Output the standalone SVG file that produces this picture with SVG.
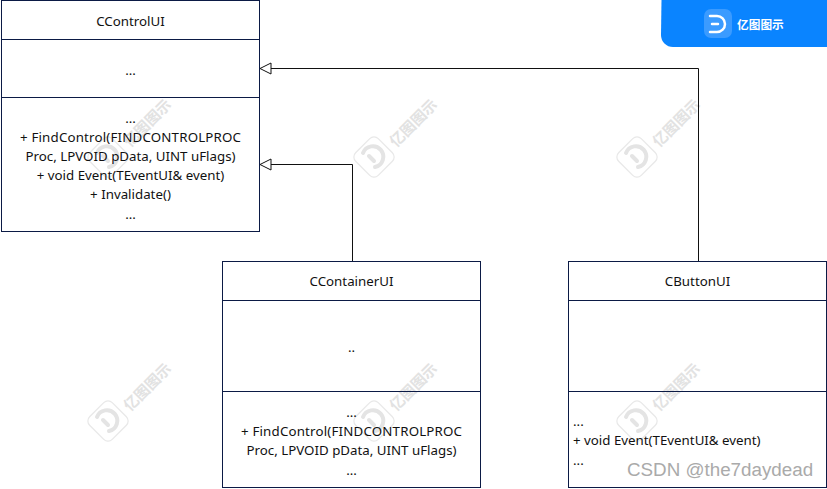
<svg xmlns="http://www.w3.org/2000/svg" width="827" height="489" viewBox="0 0 827 489">
<style>
.box{fill:none;stroke:#0b1a45;stroke-width:1}
.t{font-family:"Noto Sans","Noto Sans CJK SC",sans-serif;font-size:13.3px;fill:#111;text-anchor:middle}
.l{text-anchor:start}
.c{fill:none;stroke:#111;stroke-width:1}
.h{fill:#fff;stroke:#111;stroke-width:1}
.wm{fill:#fff;stroke:#e8e8e8;stroke-width:1.2}
.wi{fill:none;stroke:#e4e4e4;stroke-width:4;stroke-linecap:round}
.wt{font-family:"Noto Sans CJK SC",sans-serif;font-size:15px;font-weight:700;fill:#e2e2e2}
</style>
<defs>
<g id="wmark">
<rect class="wm" x="-16" y="-16" width="32" height="32" rx="6" transform="rotate(-45)"/>
<path class="wi" d="M-11 -4 A 10.500 10.500 0 1 1 1 10 M-5 -1 L0 4"/>
<text class="wt" x="22" y="-9" transform="rotate(-45 22 -9)">亿图图示</text>
</g>
</defs>
<rect width="827" height="489" fill="#fff"/>
<g id="watermarks">
<use href="#wmark" x="108" y="157"/>
<use href="#wmark" x="374" y="157"/>
<use href="#wmark" x="637" y="157"/>
<use href="#wmark" x="108" y="421"/>
<use href="#wmark" x="374" y="421"/>
<use href="#wmark" x="637" y="421"/>
</g>
<g id="banner">
<path d="M661.500 0H827V47H673a12 12 0 0 1-12-12Z" fill="#0a84ff"/>
<rect x="704" y="9" width="28" height="29" rx="7" fill="#3b9bff"/>
<path d="M710 16h7a8 8 0 0 1 0 16h-7M712 24h6" fill="none" stroke="#fff" stroke-width="2.500" stroke-linecap="round"/>
<text x="737" y="29" font-family="Noto Sans CJK SC,sans-serif" font-size="11.700" font-weight="700" fill="#fff">亿图图示</text>
</g>
<g id="connectors">
<path class="c" d="M271 68.500H698.500V261"/>
<path class="c" d="M271 164.500H352.500V261"/>
<path class="h" d="M260 68.500L271 63V74Z"/>
<path class="h" d="M260 164.500L271 159V170Z"/>
</g>
<g id="CControlUI">
<rect class="box" x="1.500" y="0.500" width="258" height="231"/>
<path class="box" d="M1.500 39.500H259.500M1.500 97.500H259.500"/>
<text class="t" x="130.500" y="25.500">CControlUI</text>
<text class="t" x="130.500" y="74.500">...</text>
<text class="t" x="130.500" y="122.500">...</text>
<text class="t" x="130.500" y="141.500" textLength="221" lengthAdjust="spacing">+ FindControl(FINDCONTROLPROC</text>
<text class="t" x="130.500" y="160.500">Proc, LPVOID pData, UINT uFlags)</text>
<text class="t" x="130.500" y="179.500">+ void Event(TEventUI&amp; event)</text>
<text class="t" x="130.500" y="198.500">+ Invalidate()</text>
<text class="t" x="130.500" y="218.500">...</text>
</g>
<g id="CContainerUI">
<rect class="box" x="222.500" y="261.500" width="258" height="226"/>
<path class="box" d="M222.500 300.500H480.500M222.500 391.500H480.500"/>
<text class="t" x="351.500" y="285.500">CContainerUI</text>
<text class="t" x="351.500" y="351.500">..</text>
<text class="t" x="351.500" y="416.500">...</text>
<text class="t" x="351.500" y="435.500" textLength="221" lengthAdjust="spacing">+ FindControl(FINDCONTROLPROC</text>
<text class="t" x="351.500" y="454.500">Proc, LPVOID pData, UINT uFlags)</text>
<text class="t" x="351.500" y="474.500">...</text>
</g>
<g id="CButtonUI">
<rect class="box" x="568.500" y="261.500" width="258" height="226"/>
<path class="box" d="M568.500 300.500H826.500M568.500 391.500H826.500"/>
<text class="t" x="697.500" y="285.500">CButtonUI</text>
<text class="t l" x="573" y="425.500">...</text>
<text class="t l" x="573" y="444.500">+ void Event(TEventUI&amp; event)</text>
<text class="t l" x="573" y="464.500">...</text>
</g>
<text id="csdn" x="627" y="476" font-family="Liberation Sans,sans-serif" font-size="18.800" fill="#aaa">CSDN @the7daydead</text>
</svg>
